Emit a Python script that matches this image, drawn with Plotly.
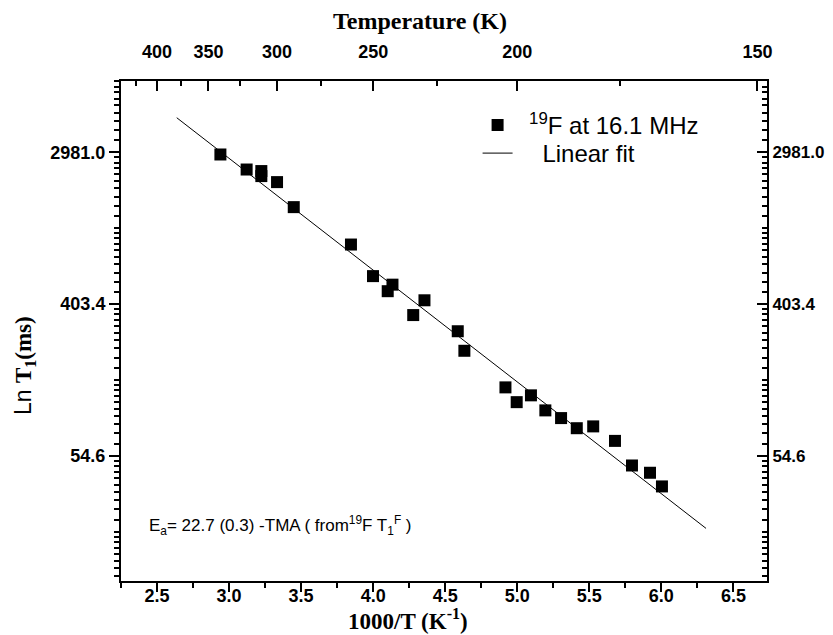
import numpy as np
import plotly.graph_objects as go

# ---- data ----
inv_T = [2.940, 3.122, 3.224, 3.224, 3.333, 3.449, 3.846, 3.999, 4.134, 4.101,
         4.356, 4.278, 4.587, 4.633, 4.918, 4.996, 5.095, 5.195, 5.304, 5.413,
         5.527, 5.678, 5.796, 5.921, 6.004]
T1_ms = [2895, 2375, 2327, 2178, 2012, 1447, 884, 583, 521, 478,
         424, 349, 282, 218, 134.6, 110.8, 121.2, 99.4, 89.8, 78.6,
         80.5, 66.5, 48.1, 43.7, 36.5]
fit_x = [2.637, 6.310]
fit_y = [4700, 21.0]

bottom_ticks = [2.5, 3.0, 3.5, 4.0, 4.5, 5.0, 5.5, 6.0, 6.5]
top_T_major = [400, 350, 300, 250, 200, 150]
top_T_minor = [425, 375, 325, 275, 225, 175]
y_major_ln = [4, 6, 8]
y_major_text = ["54.6", "403.4", "2981.0"]

# ---- styling helpers ----
SANS = "Liberation Sans"
SERIF = "Liberation Serif"
xr = [2.2502, 6.733]
yr = [1.0211, 3.8822]

y_major_vals = [float(np.exp(v)) for v in y_major_ln]
y_minor_vals = []
for n in range(2, 10):
    lo, hi = np.exp(n), np.exp(n + 1)
    for k in range(0, 10):
        y_minor_vals.append(float(lo + k * (hi - lo) / 10))

fig = go.Figure()
fig.add_trace(go.Scatter(
    x=inv_T, y=T1_ms, mode="markers",
    marker=dict(symbol="square", size=12, color="black"),
    name="\u00a0\u2009<sup>19</sup>F at 16.1 MHz", legend="legend"))
fig.add_trace(go.Scatter(
    x=fit_x, y=fit_y, mode="lines",
    line=dict(color="black", width=1),
    name="\u00a0\u00a0\u00a0\u2009Linear fit", legend="legend2"))
# helper traces so the top and right axes are drawn
fig.add_trace(go.Scatter(x=[1000 / t for t in top_T_major], y=[None] * 6,
                         xaxis="x2", yaxis="y", showlegend=False, hoverinfo="skip"))
fig.add_trace(go.Scatter(x=[None] * 3, y=y_major_vals,
                         xaxis="x", yaxis="y2", showlegend=False, hoverinfo="skip"))

tickfont = dict(family=SANS, size=18, color="black", weight="bold")
tickfont_r = dict(family=SANS, size=17, color="black", weight="bold")
legfont = dict(family=SANS, size=24, color="black")

fig.update_layout(
    width=833, height=635, autosize=False,
    margin=dict(l=113, r=74, t=73, b=62, autoexpand=False),
    paper_bgcolor="white", plot_bgcolor="white",
    showlegend=True,
    legend=dict(x=0.552, y=0.956, xanchor="left", yanchor="top", font=legfont,
                bgcolor="rgba(0,0,0,0)", itemwidth=30),
    legend2=dict(x=0.552, y=0.900, xanchor="left", yanchor="top", font=legfont,
                 bgcolor="rgba(0,0,0,0)", itemwidth=30),
    xaxis=dict(range=xr, showgrid=False, zeroline=False, automargin=False,
               showline=True, linecolor="black", linewidth=2,
               ticks="outside", ticklen=9, tickwidth=2, tickcolor="black",
               tickvals=bottom_ticks, ticktext=[f"{v:.1f}" for v in bottom_ticks],
               tickfont=tickfont, ticklabelstandoff=-12,
               minor=dict(tickvals=[v + 0.25 for v in bottom_ticks[:-1]] + [2.25, 6.75],
                          ticks="outside", ticklen=5, tickwidth=2, tickcolor="black")),
    xaxis2=dict(range=xr, overlaying="x", side="top", anchor="y", automargin=False,
                showgrid=False, zeroline=False,
                showline=True, linecolor="black", linewidth=2,
                ticks="inside", ticklen=10, tickwidth=2, tickcolor="black",
                tickvals=[1000 / t for t in top_T_major],
                ticktext=[str(t) for t in top_T_major],
                tickfont=tickfont, ticklabelstandoff=14,
                minor=dict(tickvals=[1000 / t for t in top_T_minor],
                           ticks="inside", ticklen=5, tickwidth=2, tickcolor="black")),
    yaxis=dict(type="log", range=yr, showgrid=False, zeroline=False, automargin=False,
               showline=True, linecolor="black", linewidth=2,
               ticks="outside", ticklen=10, tickwidth=2, tickcolor="black",
               tickvals=y_major_vals, ticktext=y_major_text, tickfont=tickfont,
               minor=dict(tickvals=y_minor_vals, ticks="outside", ticklen=5,
                          tickwidth=1.5, tickcolor="black")),
    yaxis2=dict(type="log", range=yr, overlaying="y", side="right", anchor="x",
                automargin=False, showgrid=False, zeroline=False,
                showline=True, linecolor="black", linewidth=2,
                ticks="inside", ticklen=10, tickwidth=2, tickcolor="black",
                tickvals=y_major_vals, ticktext=y_major_text, tickfont=tickfont_r,
                ticklabelstandoff=0,
                minor=dict(tickvals=y_minor_vals, ticks="inside", ticklen=5,
                           tickwidth=1.5, tickcolor="black")),
)

fig.add_annotation(text="<b>Temperature (K)</b>", xref="paper", yref="paper",
                   x=0.463, y=1.12, xanchor="center", yanchor="middle",
                   showarrow=False, font=dict(family=SERIF, size=24, color="black"))
fig.add_annotation(text="<b>1000/T (K<sup>-1</sup>)</b>", xref="paper", yref="paper",
                   x=0.445, y=-0.076, xanchor="center", yanchor="middle",
                   showarrow=False, font=dict(family=SERIF, size=23, color="black"))
fig.add_annotation(
    text='<span style="font-family:Liberation Sans;font-weight:normal">Ln </span>'
         '<b>T<sub>1</sub>(ms)</b>',
    xref="paper", yref="paper", x=-0.15, y=0.43, xanchor="center", yanchor="middle",
    textangle=-90, showarrow=False, font=dict(family=SERIF, size=23, color="black"))
fig.add_annotation(
    text="E<sub>a</sub>= 22.7 (0.3) -TMA ( from<sup>19</sup>F T<sub>1</sub><sup>F</sup> )",
    xref="paper", yref="paper", x=0.040, y=0.1115, xanchor="left", yanchor="middle",
    showarrow=False, font=dict(family=SANS, size=17, color="black"))

fig.write_html("out.html")
